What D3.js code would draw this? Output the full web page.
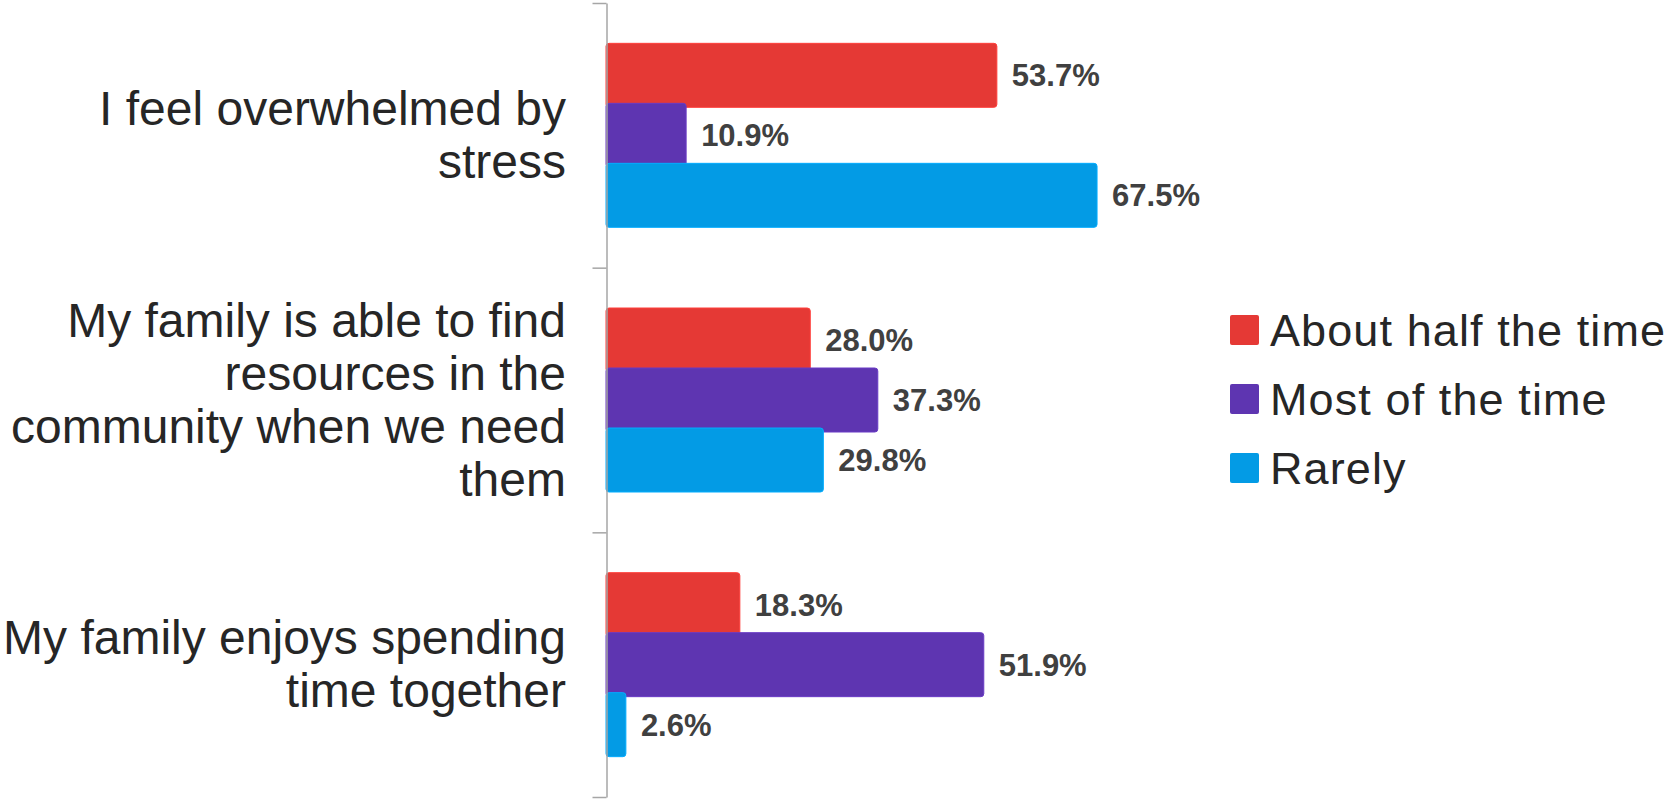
<!DOCTYPE html>
<html>
<head>
<meta charset="utf-8">
<script src="https://cdn.jsdelivr.net/npm/d3@7"></script>
<style>
  body { margin: 0; background: #fff; }
  svg { display: block; font-family: "Liberation Sans", Arial, sans-serif; }
</style>
</head>
<body>
<script>
(function(){

//chart data
var categories = [
    "I feel overwhelmed by stress",
    "My family is able to find resources in the community when we need them",
    "My family enjoys spending time together"
];
//wrapped tick labels, one entry per category
var labelLines = [
    ["I feel overwhelmed by", "stress"],
    ["My family is able to find", "resources in the", "community when we need", "them"],
    ["My family enjoys spending", "time together"]
];
var seriesNames = ["About half the time", "Most of the time", "Rarely"];
var halfTime = [53.7, 28.0, 18.3];
var mostTime = [10.9, 37.3, 51.9];
var rarely   = [67.5, 29.8, 2.6];
var seriesValues = [halfTime, mostTime, rarely];
var colors = ["#E53935", "#5E35B1", "#039BE5"];

window.onload = drawChart();

function drawChart(){
    var width = 1670,
        height = 800;

    var svg = d3.select("body")
        .append("svg")
        .attr("width", width)
        .attr("height", height);

    //category bands down the axis
    var y = d3.scaleBand()
        .domain(categories)
        .range([3, 797])
        .padding(0);

    //boundary scale used only for the axis ticks
    var yEdge = d3.scaleLinear()
        .domain([0, categories.length])
        .range([3, 797]);

    //bar offsets inside a band
    var ySeries = d3.scaleBand()
        .domain(seriesNames)
        .range([-90, 90]);

    var x = d3.scaleLinear()
        .domain([0, 100])
        .range([607, 1333]);

    var barH = ySeries.bandwidth() + 4;

    //bars, one group per series so later series sit on top
    seriesNames.forEach(function(name, s){
        var g = svg.append("g").attr("class", "series");
        g.selectAll("rect")
            .data(seriesValues[s])
            .enter()
            .append("rect")
            .attr("x", x(0) - 1)
            .attr("y", function(d, i){
                return y(categories[i]) + y.bandwidth() / 2 + ySeries(name) + ySeries.bandwidth() / 2 - barH / 2;
            })
            .attr("width", function(d){ return x(d) - x(0) + 1; })
            .attr("height", barH)
            .attr("rx", 3)
            .attr("fill", colors[s])
            .attr("stroke", d3.color(colors[s]).brighter(0.3))
            .attr("stroke-width", 1);

        //value labels
        g.selectAll("text")
            .data(seriesValues[s])
            .enter()
            .append("text")
            .attr("x", function(d){ return x(d) + 15; })
            .attr("y", function(d, i){
                return y(categories[i]) + y.bandwidth() / 2 + ySeries(name) + ySeries.bandwidth() / 2;
            })
            .attr("dy", "0.36em")
            .attr("font-size", 31)
            .attr("font-weight", "bold")
            .attr("fill", "#404040")
            .text(function(d){ return d.toFixed(1) + "%"; });
    });

    //axis line with ticks at band edges
    var axis = svg.append("g")
        .attr("transform", "translate(606.5,0)")
        .call(d3.axisLeft(yEdge)
            .tickValues(d3.range(categories.length + 1))
            .tickSize(14)
            .tickSizeOuter(0)
            .tickFormat(""));
    axis.selectAll("path, line")
        .attr("stroke", "#A6A6A6")
        .attr("stroke-width", 1.5);

    //category labels, right aligned beside the axis
    var lineH = 53;
    var labels = svg.append("g");
    labelLines.forEach(function(lines, i){
        var cy = y(categories[i]) + y.bandwidth() / 2;
        var first = cy - (lines.length - 1) * lineH / 2 + 16;
        var t = labels.append("text")
            .attr("text-anchor", "end")
            .attr("font-size", 48)
            .attr("fill", "#262626");
        lines.forEach(function(line, j){
            t.append("tspan")
                .attr("x", 566)
                .attr("y", first + j * lineH)
                .text(line);
        });
    });

    //legend
    var legendY = d3.scalePoint()
        .domain(seriesNames)
        .range([330, 468]);

    var legend = svg.append("g");
    legend.selectAll("rect")
        .data(seriesNames)
        .enter()
        .append("rect")
        .attr("x", 1230)
        .attr("y", function(d){ return legendY(d) - 15; })
        .attr("width", 29)
        .attr("height", 30)
        .attr("rx", 2)
        .attr("fill", function(d, i){ return colors[i]; });

    legend.selectAll("text")
        .data(seriesNames)
        .enter()
        .append("text")
        .attr("x", 1270)
        .attr("y", function(d){ return legendY(d) + 16; })
        .attr("font-size", 45)
        .attr("letter-spacing", 1.1)
        .attr("fill", "#262626")
        .text(function(d){ return d; });
}

})();
</script>
</body>
</html>
